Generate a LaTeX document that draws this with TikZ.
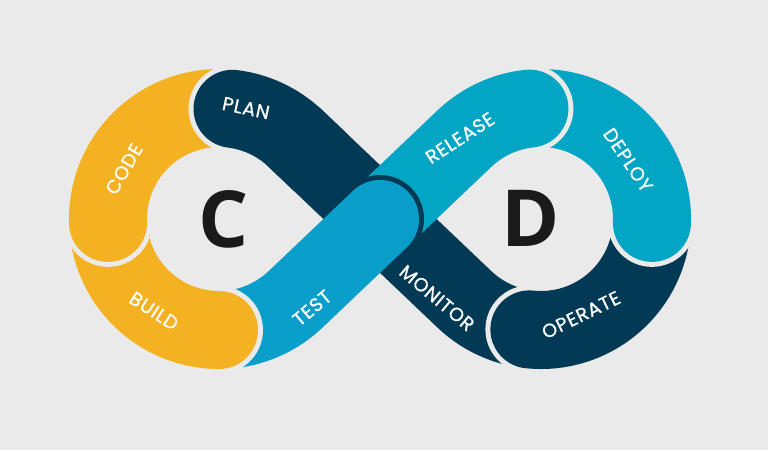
\documentclass[tikz,border=0pt]{standalone}
\usepackage{fontspec}
\setmainfont{Poppins}
\newfontfamily\lblfont{Poppins}[FakeBold=0.8, LetterSpace=4]
\newfontfamily\bigletter{Open Sans}
\usetikzlibrary{calc}
\definecolor{bggray}{RGB}{234,234,234}
\definecolor{cdyellow}{RGB}{244,177,33}
\definecolor{cdnavy}{RGB}{2,58,86}
\definecolor{cdblue}{RGB}{10,158,202}
\definecolor{cdteal}{RGB}{2,165,195}
\definecolor{cdblack}{RGB}{26,26,26}

\begin{document}
\begin{tikzpicture}[x=0.025cm, y=0.025cm,
  band/.style={line width=1.95cm, line cap=round},
  gap/.style={fill=bggray},
  lbl/.style={text=white, font=\lblfont\fontsize{13.5}{15}\selectfont},
  big/.style={text=cdblack, font=\bigletter\bfseries\fontsize{56}{60}\selectfont}
]

% Background
\fill[bggray] (0,0) rectangle (768,450);
\useasboundingbox (0,0) rectangle (768,450);

% ======= Loop centres and tangent points =======
\def\rad{111}
\coordinate (L) at (219,231);
\coordinate (R) at (541,231);
\coordinate (X) at (380,231);
\coordinate (Tul) at ($(L)+(46.41:\rad)$);
\coordinate (Tll) at ($(L)+(-46.41:\rad)$);
\coordinate (Tlr) at ($(R)+(226.41:\rad)$);

% ======= Right loop =======
% Monitor (dark band through the crossing)
\draw[band, cdnavy] (Tul) -- (Tlr) arc[start angle=226.41, end angle=269, radius=\rad];
% Operate
\fill[gap] ($(R)+(264:\rad)$) circle (44);
\draw[band, cdnavy] ($(R)+(264:\rad)$) arc[start angle=264, end angle=363, radius=\rad];
% Deploy
\fill[gap] ($(R)+(358:\rad)$) circle (44);
\draw[band, cdteal] ($(R)+(358:\rad)$) arc[start angle=358, end angle=461, radius=\rad];
% Release
\fill[gap] ($(R)+(96:\rad)$) circle (44);
\draw[band, cdteal] ($(R)+(96:\rad)$) arc[start angle=96, end angle=133.59, radius=\rad] -- (X);

% ======= Left loop =======
% Test (with dark rim over the crossing)
\fill[cdnavy] (X) circle (44);
\draw[band, cdblue] (X) -- (Tll) arc[start angle=-46.41, end angle=-95, radius=\rad];
% Build
\fill[gap] ($(L)+(-90:\rad)$) circle (44);
\draw[band, cdyellow] ($(L)+(-90:\rad)$) arc[start angle=-90, end angle=-183, radius=\rad];
% Code
\fill[gap] ($(L)+(-178:\rad)$) circle (44);
\draw[band, cdyellow] ($(L)+(-178:\rad)$) arc[start angle=-178, end angle=-282, radius=\rad];
% Plan
\fill[gap] ($(L)+(83:\rad)$) circle (44);
\draw[band, cdnavy] ($(L)+(83:\rad)$) arc[start angle=83, end angle=46.41, radius=\rad] -- ($(Tul)!0.27!(X)$);

% ======= Labels =======
\node[lbl, rotate=-12] (plan) at (246,342) {PLAN};
\node[lbl, rotate=60] (code) at (124,281) {CODE};
\node[lbl, rotate=-33] (build) at (154,139) {BUILD};
\node[lbl, rotate=40] (test) at (312,142) {TEST};
\node[lbl, rotate=33] (release) at (460,312) {RELEASE};
\node[lbl, rotate=-56] (deploy) at (628,290) {DEPLOY};
\node[lbl, rotate=26] (operate) at (581,135) {OPERATE};
\node[lbl, rotate=-40] (monitor) at (437,152) {MONITOR};

\node[big] (cee) at (224,231) {C};
\node[big] (dee) at (531,232) {D};

\end{tikzpicture}
\end{document}
